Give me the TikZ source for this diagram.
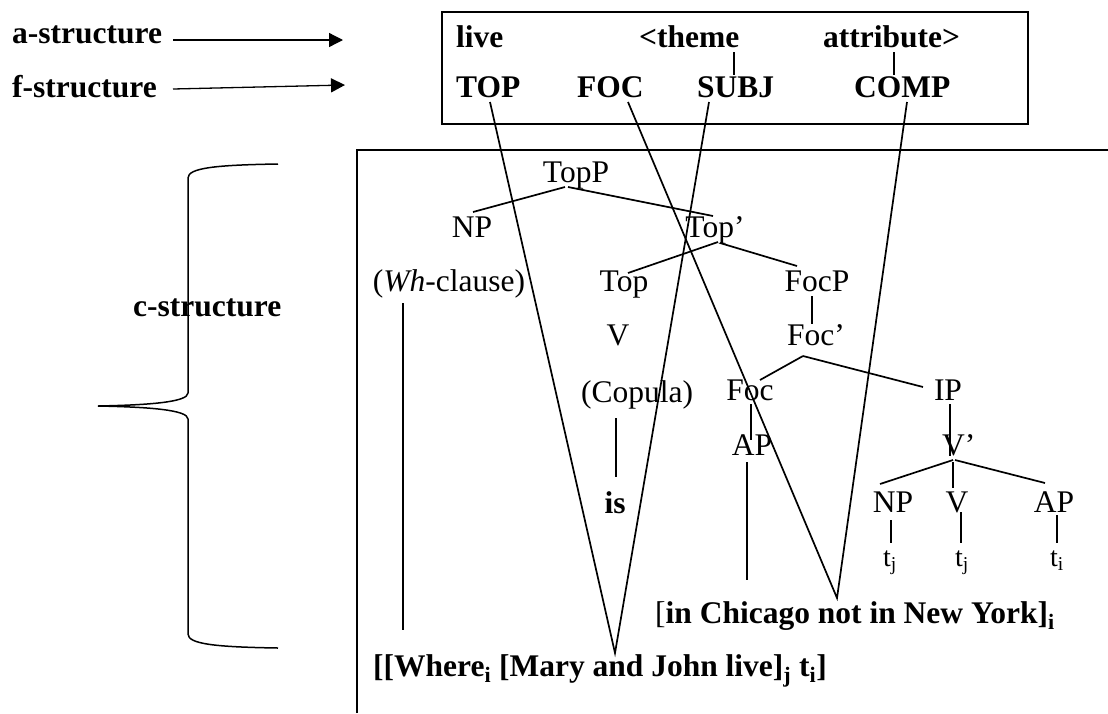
\documentclass[tikz,border=0pt]{standalone}
\usepackage{fontspec}
\setmainfont{Liberation Serif}
\usetikzlibrary{arrows.meta}

\begin{document}
\begin{tikzpicture}[x=1pt,y=-1pt,
  lbl/.style={font=\fontsize{31.5}{36}\selectfont\bfseries, inner sep=0, anchor=base west},
  cat/.style={font=\fontsize{31.5}{36}\selectfont, inner sep=0, anchor=base},
  catb/.style={cat, font=\fontsize{31.5}{36}\selectfont\bfseries},
  trace/.style={font=\fontsize{28}{32}\selectfont, inner sep=0, anchor=base west},
  branch/.style={line width=1.7pt},
  link/.style={line width=1.7pt},
  frame/.style={line width=2.2pt},
  arr/.style={line width=1.3pt, -{Triangle[length=14pt,width=14pt]}}]

\useasboundingbox (0,0) rectangle (1108,713);

% level labels and arrows
\node[lbl] (astr) at (12,43) {a-structure};
\node[lbl] (fstr) at (12,97) {f-structure};
\node[lbl] (cstr) at (133,316) {c-structure};
\coordinate (aS) at (173,40);  \coordinate (aE) at (343,40);
\coordinate (fS) at (173,89);  \coordinate (fE) at (345,85);
\draw[arr] (aS) -- (aE);
\draw[arr] (fS) -- (fE);

% brace spanning the c-structure
\draw[line width=1.5pt]
  (278,164) .. controls (215,165) and (188,168) .. (188,178)
  -- (188,393) .. controls (188,402) and (150,405) .. (98,406)
  .. controls (150,407) and (188,410) .. (188,419)
  -- (188,634) .. controls (188,644) and (215,647) .. (278,648);

% a-/f-structure box
\node[draw, frame, inner sep=0, minimum width=586pt, minimum height=112pt,
      anchor=north west] (fbox) at (441,11) {};
\node[lbl] (live)  at (456,47) {live};
\node[lbl] (theme) at (639,47) {<theme};
\node[lbl] (attr)  at (823,47) {attribute>};
\node[lbl] (TOP)   at (456,97) {TOP};
\node[lbl] (FOC)   at (577,97) {FOC};
\node[lbl] (SUBJ)  at (697,97) {SUBJ};
\node[lbl] (COMP)  at (854,97) {COMP};
\coordinate (thA) at (734,52); \coordinate (thB) at (734,75);
\coordinate (atA) at (894,52); \coordinate (atB) at (894,75);
\draw[branch] (thA) -- (thB);
\draw[branch] (atA) -- (atB);

% c-structure frame
\draw[frame] (357,713) -- (357,150) -- (1110,150);

% tree categories
\node[cat] (TopP)  at (576,182) {TopP};
\node[cat] (NP1)   at (472,237) {NP};
\node[cat] (TopB)  at (715,237) {Top’};
\node[cat] (Wh)    at (449,291) {(\textit{Wh}-clause)};
\node[cat] (Top)   at (624,291) {Top};
\node[cat] (FocP)  at (817,291) {FocP};
\node[cat] (V1)    at (618,345) {V};
\node[cat] (FocB)  at (816,345) {Foc’};
\node[cat] (Cop)   at (637,402) {(Copula)};
\node[cat] (Foc)   at (750,400) {Foc};
\node[cat] (IP)    at (948,400) {IP};
\node[cat] (AP1)   at (752,455) {AP};
\node[cat, anchor=base west] (VB) at (942,455) {V’};
\node[catb] (is)   at (615,513) {is};
\node[cat] (NP2)   at (893,512) {NP};
\node[cat] (V2)    at (957,512) {V};
\node[cat] (AP2)   at (1054,512) {AP};
\node[trace] (t1)  at (883,566) {t\textsubscript{j}};
\node[trace] (t2)  at (955,566) {t\textsubscript{j}};
\node[trace] (t3)  at (1050,566) {t\textsubscript{i}};
\node[lbl] (focus) at (655,623) {\mdseries[\bfseries in Chicago not in New York]\textsubscript{i}};
\node[lbl] (sent)  at (373,676) {[[Where\textsubscript{i} [Mary and John live]\textsubscript{j} t\textsubscript{i}]};

% tree branches
\draw[branch] (565,187) -- (473,212);
\draw[branch] (568,187) -- (713,216);
\draw[branch] (718,242) -- (628,273);
\draw[branch] (720,243) -- (797,266);
\draw[branch] (812,296) -- (812,324);
\draw[branch] (803,356) -- (760,380);
\draw[branch] (803,356) -- (923,387);
\draw[branch] (751,404) -- (751,440);
\draw[branch] (747,462) -- (747,580);
\draw[branch] (950,404) -- (950,456);
\draw[branch] (953,460) -- (880,484);
\draw[branch] (953,462) -- (953,488);
\draw[branch] (955,460) -- (1045,483);
\draw[branch] (891,520) -- (891,543);
\draw[branch] (961,512) -- (961,543);
\draw[branch] (1057,515) -- (1057,543);
\draw[branch] (616,418) -- (616,477);
\draw[branch] (403,303) -- (403,630);

% mapping lines from f-structure functions into the c-structure
\coordinate (topFoot)  at (490,102);
\coordinate (focFoot)  at (628,102);
\coordinate (subjFoot) at (709,102);
\coordinate (compFoot) at (907,102);
\coordinate (apexIs)   at (615,653);
\coordinate (apexNot)  at (837,598);
\draw[link] (topFoot) -- (apexIs) -- (subjFoot);
\draw[link] (focFoot) -- (apexNot) -- (compFoot);
\end{tikzpicture}
\end{document}
